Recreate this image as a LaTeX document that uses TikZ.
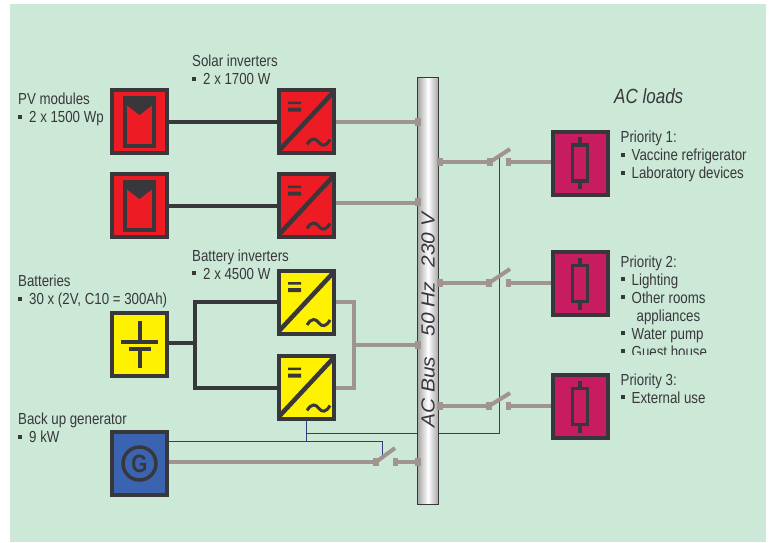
\documentclass[tikz,border=0pt]{standalone}
\usepackage{fontspec}
\setmainfont{Liberation Sans}[FakeStretch=0.83]
\newfontfamily\busfont{Liberation Sans}[FakeStretch=1.1]
\usepackage{tikz}
\usetikzlibrary{positioning,calc}
\definecolor{bggreen}{RGB}{204,232,214}
\definecolor{inkdark}{RGB}{56,56,60}
\definecolor{acgray}{RGB}{160,148,144}
\definecolor{pvred}{RGB}{237,28,36}
\definecolor{battyellow}{RGB}{255,242,0}
\definecolor{genblue}{RGB}{58,100,176}
\definecolor{loadpink}{RGB}{200,28,96}
\definecolor{ctrlblue}{RGB}{50,60,125}
\newcommand{\itm}{\rule[4pt]{4pt}{4pt}\hspace{7pt}}

\begin{document}
\begin{tikzpicture}[
  x=1pt,y=-1pt,
  unit/.style={rectangle,draw=inkdark,line width=4pt,minimum width=55pt,minimum height=63pt,inner sep=0pt},
  pv/.style={unit,fill=pvred},
  batt/.style={unit,fill=battyellow},
  gen/.style={unit,fill=genblue},
  load/.style={unit,fill=loadpink},
  label/.style={anchor=north west,inner sep=0pt,align=left,text=inkdark,font=\fontsize{16}{18}\selectfont},
  bustext/.style={rotate=90,text=inkdark,font=\fontsize{19}{19}\busfont\itshape},
  dcline/.style={draw=inkdark,line width=4pt},
  acline/.style={draw=acgray,line width=4pt},
  ctrl/.style={draw=ctrlblue,line width=1pt},
  sym/.style={draw=inkdark,line width=4pt}
]
\fill[white] (0,0) rectangle (771,542);
\fill[bggreen] (10,4) rectangle (766,542);

% sources
\node[pv] (pv1) at (139.5,121.5) {};
\node[pv] (pv2) at (139.5,205.5) {};
\node[pv] (inv1) at (306,121.5) {};
\node[pv] (inv2) at (306,205.5) {};
\node[batt] (inv3) at (306,302) {};
\node[batt] (inv4) at (306,387.5) {};
\node[batt] (bat) at (139.5,344.5) {};
\node[gen] (diesel) at (139.5,463.5) {};

% loads
\node[load] (load1) at (580,163) {};
\node[load] (load2) at (580,283.5) {};
\node[load] (load3) at (580,406.5) {};

% module and inverter symbols
\foreach \n in {pv1,pv2} {
  \begin{scope}[shift={(\n.center)}]
    \draw[sym] (-14.5,-24) rectangle (14.5,24);
    \fill[inkdark] (-15,-25) -- (15,-25) -- (15,-18) -- (0,-6.5) -- (-15,-18) -- cycle;
  \end{scope}
}
\foreach \n in {inv1,inv2,inv3,inv4} {
  \begin{scope}[shift={(\n.center)}]
    \draw[inkdark,line width=4.5pt] (-27,29) -- (27,-29);
    \fill[inkdark] (-18,-20) rectangle (-5,-17.5) (-18,-14) rectangle (-5,-10);
    \draw[inkdark,line width=3pt] (1,23) .. controls (6,15) and (10,17) .. (13,21) .. controls (16,25) and (20,25) .. (24,18);
  \end{scope}
}
\begin{scope}[shift={(bat.center)}]
  \draw[sym] (0,-24) -- (0,-3) (-18.5,-3) -- (18.5,-3);
  \draw[sym] (-11,4.5) -- (11,4.5) (0,4.5) -- (0,23);
\end{scope}
\begin{scope}[shift={(diesel.center)}]
  \draw[inkdark,line width=3.5pt] (0,0) circle (16.5);
  \node[text=inkdark,font=\fontsize{25}{25}\selectfont\bfseries] (gletter) at (0,0) {G};
\end{scope}
\foreach \n in {load1,load2,load3} {
  \begin{scope}[shift={(\n.center)}]
    \draw[inkdark,line width=3.5pt] (-7.5,-18) rectangle (7.5,18);
    \draw[inkdark,line width=3.5pt] (0,-26) -- (0,-18) (0,18) -- (0,26);
  \end{scope}
}

% control lines
\coordinate (ctrlup) at (499,157);
\coordinate (ctrlcorner) at (499,433);
\coordinate (ctrlgen) at (382,441);
\coordinate (ctrltee) at (305.5,441);
\draw[ctrl] (ctrlup) -- (ctrlcorner) -- (ctrlcorner -| ctrltee);
\draw[ctrl] (inv4.south) -- (inv4.south |- ctrltee);
\draw[ctrl] (diesel.east |- ctrlgen) -- (ctrlgen) -- (382,455);

% AC bus
\node[rectangle,draw=inkdark,line width=1.5pt,left color=gray!70,right color=gray!70,middle color=white,
      minimum width=21pt,minimum height=427pt,inner sep=0pt] (bus) at (428,291) {};
\node[bustext] (busa) at (428,392) {AC Bus};
\node[bustext] (busb) at (428,309) {50 Hz};
\node[bustext] (busc) at (428,240) {230 V};

% switch contacts
\coordinate (sw1a) at (490,162);
\coordinate (sw1b) at (508,162);
\coordinate (sw2a) at (489,283);
\coordinate (sw2b) at (508,283);
\coordinate (sw3a) at (489,406);
\coordinate (sw3b) at (508,406);
\coordinate (sw4a) at (376,462);
\coordinate (sw4b) at (395,462);
\foreach \n/\ty in {1/149,2/269,3/393} {
  \draw[acline] (sw\n a) -- (510,\ty);
  \fill[acgray] ($(sw\n a)+(-3,-4)$) rectangle ($(sw\n a)+(3,4)$);
  \fill[acgray] ($(sw\n b)+(-2,-4)$) rectangle ($(sw\n b)+(3,4)$);
}
\draw[acline] (sw4a) -- (395,448);
\fill[acgray] ($(sw4a)+(-3,-4)$) rectangle ($(sw4a)+(3,4)$);
\fill[acgray] ($(sw4b)+(-2,-4)$) rectangle ($(sw4b)+(3,4)$);

% DC side
\draw[dcline] (pv1) -- (inv1);
\draw[dcline] (pv2) -- (inv2);
\coordinate (dcjoin) at (195,343);
\draw[dcline] (bat.east |- dcjoin) -- (dcjoin);
\draw[dcline] (inv3.west) -| (dcjoin) |- (inv4.west);

% AC side
\draw[acline] (inv1.east) -- (inv1.east -| bus.west);
\draw[acline] ([yshift=3pt]inv2.east) -- ([yshift=3pt]inv2.east -| bus.west);
\coordinate (acjoin) at (354,345);
\draw[acline] (inv3.east) -| (acjoin) |- (inv4.east);
\draw[acline] (acjoin) -- (acjoin -| bus.west);
\draw[acline] (sw4b) -- (sw4b -| bus.west);
\draw[acline] (diesel.east |- sw4a) -- (sw4a);
\draw[acline] (sw1a -| bus.east) -- (sw1a);
\draw[acline] (sw2a -| bus.east) -- (sw2a);
\draw[acline] (sw3a -| bus.east) -- (sw3a);
\draw[acline] (sw1b) -- (sw1b -| load1.west);
\draw[acline] (sw2b) -- (sw2b -| load2.west);
\draw[acline] (sw3b) -- (sw3b -| load3.west);
\foreach \y in {122,202,345,462} {
  \fill[acgray] (415,\y-4) rectangle (421,\y+4);
}
\foreach \y in {162,283,406} {
  \fill[acgray] (437,\y-4) rectangle (443,\y+4);
}

% labels
\node[label] (lblpv) at (18,93) {PV modules\\\itm 2 x 1500 Wp};
\node[label] (lblsol) at (192,55) {Solar inverters\\\itm 2 x 1700 W};
\node[label] (lblbat) at (18,275) {Batteries\\\itm 30 x (2V, C10 = 300Ah)};
\node[label] (lblbinv) at (192,249.5) {Battery inverters\\\itm 2 x 4500 W};
\node[label] (lblgen) at (18,413) {Back up generator\\\itm 9 kW};
\node[label,font=\fontsize{20.5}{20.5}\selectfont\itshape] (lblac) at (614,88) {AC loads};
\node[label] (lblp1) at (620.5,131) {Priority 1:\\\itm Vaccine refrigerator\\\itm Laboratory devices};
\begin{scope}
  \clip (612,240) rectangle (771,354);
  \node[label] (lblp2) at (620.5,255.5) {Priority 2:\\\itm Lighting\\\itm Other rooms\\\hspace*{16pt}appliances\\\itm Water pump\\\itm Guest house};
\end{scope}
\node[label] (lblp3) at (620.5,373.5) {Priority 3:\\\itm External use};
\end{tikzpicture}
\end{document}
